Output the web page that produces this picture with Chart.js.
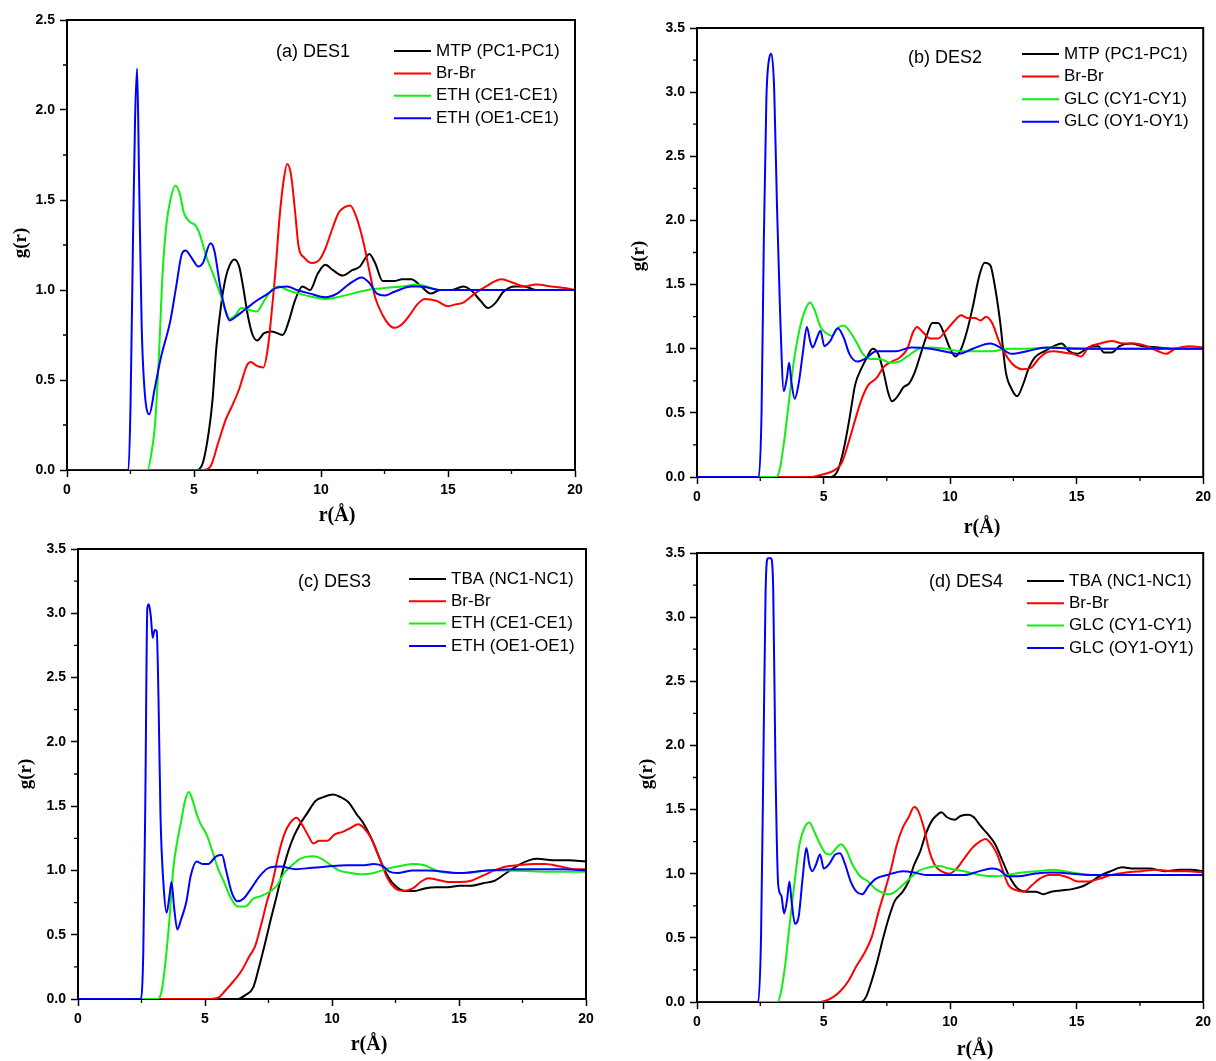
<!DOCTYPE html>
<html>
<head>
<meta charset="utf-8">
<script src="https://cdn.jsdelivr.net/npm/chart.js@4.4.0/dist/chart.umd.min.js"></script>
<style>
  body { margin: 0; background: #fff; width: 1216px; height: 1061px; position: relative; overflow: hidden; }
  canvas { position: absolute; }
</style>
</head>
<body>
<canvas id="panelA" width="608" height="545" style="left:0;top:0"></canvas>
<canvas id="panelB" width="608" height="545" style="left:608px;top:0"></canvas>
<canvas id="panelC" width="608" height="531" style="left:0;top:530px"></canvas>
<canvas id="panelD" width="608" height="531" style="left:608px;top:530px"></canvas>
<script>
// (a) DES1
const rA_MTP = [0, 5.12, 5.35, 5.58, 5.73, 5.88, 6.07, 6.25, 6.41, 6.59, 6.78, 6.93, 7.13, 7.31, 7.49, 7.76, 8.06, 8.49, 8.74, 8.97, 9.27, 9.57, 9.87, 10.17, 10.47, 10.85, 11.23, 11.53, 11.76, 11.9, 12.13, 12.43, 12.89, 13.19, 13.56, 13.94, 14.32, 14.69, 15.15, 15.6, 15.9, 16.28, 16.58, 16.88, 17.18, 17.63, 18.0, 18.46, 19.2, 20];
const gA_MTP = [0, 0, 0.04, 0.21, 0.39, 0.68, 0.92, 1.07, 1.14, 1.17, 1.13, 1.02, 0.85, 0.75, 0.72, 0.76, 0.77, 0.75, 0.83, 0.94, 1.02, 1.0, 1.09, 1.14, 1.11, 1.08, 1.11, 1.13, 1.18, 1.2, 1.15, 1.05, 1.05, 1.06, 1.06, 1.02, 0.98, 1.0, 1.0, 1.02, 1.0, 0.94, 0.9, 0.93, 0.99, 1.02, 1.02, 1.0, 1.0, 1.0];
const rA_Br = [0, 5.35, 5.65, 5.95, 6.25, 6.48, 6.78, 7.08, 7.24, 7.46, 7.73, 7.91, 8.06, 8.21, 8.36, 8.52, 8.67, 8.82, 8.97, 9.12, 9.34, 9.65, 9.95, 10.17, 10.47, 10.7, 10.93, 11.15, 11.38, 11.68, 11.9, 12.13, 12.43, 12.66, 12.89, 13.19, 13.49, 13.79, 14.09, 14.54, 15.0, 15.3, 15.6, 16.05, 16.5, 17.1, 17.56, 18.0, 18.46, 19.07, 19.67, 20];
const gA_Br = [0, 0, 0.02, 0.15, 0.28, 0.35, 0.45, 0.58, 0.6, 0.58, 0.57, 0.68, 0.88, 1.11, 1.39, 1.6, 1.7, 1.64, 1.45, 1.24, 1.18, 1.15, 1.17, 1.23, 1.35, 1.43, 1.46, 1.47, 1.41, 1.26, 1.11, 0.96, 0.86, 0.81, 0.79, 0.81, 0.86, 0.92, 0.95, 0.94, 0.91, 0.92, 0.93, 0.98, 1.02, 1.06, 1.04, 1.02, 1.03, 1.02, 1.01, 1.0];
const rA_CE = [0, 3.17, 3.32, 3.47, 3.62, 3.77, 3.92, 4.07, 4.27, 4.45, 4.6, 4.82, 5.05, 5.2, 5.5, 5.8, 6.03, 6.25, 6.41, 6.63, 6.86, 7.16, 7.46, 7.76, 8.06, 8.36, 8.67, 9.12, 9.72, 10.17, 10.63, 11.23, 11.83, 12.43, 13.19, 13.79, 14.69, 16.2, 17.7, 20];
const gA_CE = [0, 0, 0.09, 0.26, 0.64, 1.11, 1.37, 1.5, 1.58, 1.53, 1.43, 1.38, 1.36, 1.32, 1.18, 1.07, 0.98, 0.88, 0.84, 0.86, 0.9, 0.89, 0.88, 0.94, 1.0, 1.02, 1.0, 0.98, 0.96, 0.95, 0.96, 0.98, 1.0, 1.01, 1.02, 1.03, 1.0, 1.0, 1.0, 1.0];
const rA_OE = [0, 2.42, 2.5, 2.6, 2.68, 2.76, 2.84, 2.94, 3.05, 3.24, 3.45, 3.69, 4.07, 4.3, 4.52, 4.67, 4.9, 5.17, 5.35, 5.65, 5.8, 6.03, 6.25, 6.41, 6.63, 7.0, 7.46, 7.91, 8.21, 8.67, 9.04, 9.57, 10.17, 10.63, 11.08, 11.6, 11.9, 12.2, 12.51, 12.89, 13.56, 13.94, 14.69, 15.45, 16.96, 18.46, 20];
const gA_OE = [0, 0, 0.35, 1.3, 1.95, 2.23, 1.6, 0.8, 0.45, 0.31, 0.45, 0.62, 0.83, 1.02, 1.2, 1.22, 1.18, 1.13, 1.15, 1.26, 1.22, 1.02, 0.88, 0.83, 0.85, 0.89, 0.94, 0.98, 1.01, 1.02, 1.0, 0.98, 0.96, 0.98, 1.03, 1.07, 1.04, 0.98, 0.97, 0.99, 1.02, 1.02, 1.0, 1.0, 1.0, 1.0, 1.0];

// (b) DES2
const rB_MTP = [0, 5.26, 5.56, 5.79, 6.02, 6.25, 6.48, 6.71, 6.94, 7.16, 7.39, 7.55, 7.7, 7.93, 8.16, 8.38, 8.61, 8.84, 9.07, 9.3, 9.53, 9.76, 9.98, 10.21, 10.44, 10.67, 10.9, 11.13, 11.36, 11.59, 11.74, 11.97, 12.2, 12.42, 12.65, 12.88, 13.11, 13.34, 13.72, 14.1, 14.4, 14.71, 15.02, 15.47, 15.85, 16.08, 16.39, 16.69, 17.15, 17.61, 18.22, 18.83, 19.44, 20];
const gB_MTP = [0, 0, 0.05, 0.21, 0.45, 0.72, 0.84, 0.93, 1.0, 0.96, 0.8, 0.66, 0.59, 0.63, 0.7, 0.73, 0.82, 0.96, 1.1, 1.2, 1.2, 1.12, 1.01, 0.94, 1.0, 1.14, 1.33, 1.55, 1.67, 1.65, 1.52, 1.22, 0.82, 0.69, 0.63, 0.72, 0.85, 0.93, 0.98, 1.02, 1.04, 0.98, 0.96, 1.01, 1.02, 0.97, 0.97, 1.02, 1.04, 1.02, 1.01, 1.0, 1.0, 1.0];
const rB_Br = [0, 4.5, 4.95, 5.41, 5.72, 6.02, 6.33, 6.55, 6.78, 7.09, 7.39, 7.7, 8.0, 8.31, 8.54, 8.69, 8.92, 9.22, 9.53, 9.83, 10.14, 10.44, 10.67, 10.98, 11.2, 11.43, 11.66, 11.97, 12.27, 12.58, 12.88, 13.19, 13.49, 13.8, 14.1, 14.48, 14.86, 15.17, 15.47, 15.93, 16.39, 16.84, 17.3, 17.76, 18.22, 18.52, 18.9, 19.44, 20];
const gB_Br = [0, 0, 0.02, 0.05, 0.11, 0.29, 0.5, 0.63, 0.72, 0.77, 0.86, 0.9, 0.93, 1.0, 1.13, 1.17, 1.13, 1.08, 1.08, 1.14, 1.21, 1.26, 1.24, 1.24, 1.22, 1.25, 1.2, 1.04, 0.93, 0.86, 0.84, 0.85, 0.92, 0.97, 0.98, 0.97, 0.96, 0.94, 1.01, 1.04, 1.06, 1.04, 1.04, 1.02, 0.98, 0.96, 1.0, 1.02, 1.01];
const rB_CY = [0, 3.13, 3.28, 3.43, 3.61, 3.81, 4.04, 4.27, 4.47, 4.65, 4.88, 5.11, 5.34, 5.56, 5.79, 6.02, 6.33, 6.55, 6.86, 7.24, 7.62, 8.0, 8.31, 8.77, 9.22, 9.83, 10.44, 11.05, 11.66, 12.27, 13.03, 14.1, 15.63, 17.91, 20];
const gB_CY = [0, 0, 0.07, 0.26, 0.55, 0.88, 1.14, 1.3, 1.36, 1.3, 1.17, 1.12, 1.1, 1.16, 1.18, 1.14, 1.04, 0.96, 0.92, 0.92, 0.89, 0.9, 0.94, 1.0, 1.01, 1.0, 0.98, 0.98, 0.98, 1.0, 1.0, 1.01, 1.0, 1.0, 1.0];
const rB_OY = [0, 2.44, 2.55, 2.64, 2.74, 2.85, 2.94, 3.05, 3.16, 3.28, 3.43, 3.55, 3.64, 3.73, 3.86, 4.01, 4.19, 4.34, 4.47, 4.57, 4.73, 4.88, 5.03, 5.26, 5.56, 5.79, 6.02, 6.33, 6.63, 7.09, 7.85, 8.46, 9.22, 9.98, 10.37, 10.9, 11.59, 11.97, 12.42, 13.03, 13.8, 14.86, 16.39, 17.91, 20];
const gB_OY = [0, 0, 0.5, 1.84, 2.94, 3.26, 3.3, 3.02, 2.11, 1.3, 0.67, 0.77, 0.89, 0.74, 0.61, 0.72, 0.98, 1.17, 1.06, 1.01, 1.08, 1.14, 1.02, 1.06, 1.16, 1.09, 0.96, 0.9, 0.92, 0.98, 0.98, 1.01, 1.0, 0.97, 0.96, 1.0, 1.04, 1.01, 0.96, 0.98, 1.01, 1.0, 1.0, 1.0, 1.0];

// (c) DES3
const rC_TBA = [0, 6.28, 6.59, 6.9, 7.13, 7.36, 7.59, 7.82, 8.05, 8.28, 8.51, 8.74, 9.04, 9.35, 9.66, 10.04, 10.34, 10.65, 10.96, 11.26, 11.57, 11.88, 12.18, 12.49, 12.87, 13.26, 13.64, 14.1, 14.56, 15.02, 15.48, 15.94, 16.4, 16.86, 17.32, 17.78, 18.08, 18.7, 19.31, 20];
const gC_TBA = [0, 0, 0.03, 0.09, 0.25, 0.43, 0.62, 0.8, 0.99, 1.15, 1.27, 1.36, 1.45, 1.54, 1.57, 1.59, 1.57, 1.53, 1.44, 1.36, 1.24, 1.09, 0.96, 0.88, 0.84, 0.84, 0.86, 0.87, 0.87, 0.88, 0.88, 0.9, 0.92, 0.98, 1.04, 1.08, 1.09, 1.08, 1.08, 1.07];
const rC_Br = [0, 5.06, 5.52, 5.82, 6.13, 6.44, 6.74, 6.97, 7.2, 7.43, 7.66, 7.89, 8.12, 8.35, 8.61, 8.81, 9.04, 9.27, 9.5, 9.81, 10.11, 10.42, 10.73, 11.03, 11.26, 11.57, 11.88, 12.18, 12.49, 12.8, 13.18, 13.49, 13.79, 14.1, 14.56, 15.02, 15.48, 15.94, 16.4, 16.86, 17.32, 17.93, 18.39, 19.0, 19.62, 20];
const gC_Br = [0, 0, 0.01, 0.07, 0.14, 0.22, 0.33, 0.41, 0.57, 0.75, 0.91, 1.12, 1.28, 1.37, 1.41, 1.36, 1.28, 1.21, 1.23, 1.23, 1.28, 1.3, 1.33, 1.36, 1.33, 1.24, 1.09, 0.94, 0.86, 0.84, 0.86, 0.91, 0.94, 0.93, 0.91, 0.91, 0.92, 0.96, 1.0, 1.03, 1.04, 1.05, 1.05, 1.03, 1.01, 1.01];
const rC_CE = [0, 3.14, 3.3, 3.45, 3.6, 3.75, 3.91, 4.06, 4.21, 4.37, 4.52, 4.67, 4.83, 5.06, 5.29, 5.52, 5.75, 5.98, 6.28, 6.59, 6.9, 7.2, 7.51, 7.82, 8.12, 8.43, 8.74, 9.2, 9.5, 9.89, 10.27, 10.73, 11.19, 11.65, 12.11, 12.57, 13.18, 13.64, 14.1, 14.71, 15.33, 16.09, 16.86, 18.39, 20];
const gC_CE = [0, 0, 0.07, 0.3, 0.62, 1.01, 1.23, 1.38, 1.54, 1.61, 1.54, 1.44, 1.36, 1.28, 1.15, 1.01, 0.91, 0.8, 0.72, 0.72, 0.78, 0.8, 0.83, 0.88, 0.98, 1.04, 1.09, 1.11, 1.1, 1.05, 1.0, 0.98, 0.97, 0.98, 1.01, 1.03, 1.05, 1.04, 1.0, 0.98, 0.98, 1.0, 1.0, 0.99, 0.99];
const rC_OE = [0, 2.45, 2.57, 2.65, 2.73, 2.79, 2.87, 2.94, 3.02, 3.1, 3.17, 3.25, 3.37, 3.49, 3.6, 3.68, 3.79, 3.91, 4.06, 4.26, 4.44, 4.67, 4.9, 5.13, 5.44, 5.67, 5.82, 6.05, 6.28, 6.51, 6.82, 7.13, 7.51, 7.97, 8.58, 9.2, 9.81, 10.57, 11.19, 11.65, 12.03, 12.26, 12.57, 13.18, 13.79, 15.02, 16.09, 17.62, 19.16, 20];
const gC_OE = [0, 0, 0.36, 1.54, 3.04, 3.07, 2.97, 2.81, 2.87, 2.86, 2.33, 1.41, 0.88, 0.67, 0.8, 0.91, 0.7, 0.54, 0.62, 0.75, 0.96, 1.07, 1.05, 1.05, 1.11, 1.12, 1.01, 0.83, 0.76, 0.78, 0.86, 0.95, 1.02, 1.03, 1.01, 1.02, 1.03, 1.04, 1.04, 1.05, 1.03, 0.99, 0.98, 1.0, 1.0, 0.98, 1.0, 1.01, 1.01, 1.0];

// (d) DES4
const rD_TBA = [0, 6.45, 6.68, 6.91, 7.14, 7.37, 7.6, 7.82, 8.13, 8.36, 8.58, 8.81, 9.04, 9.27, 9.5, 9.65, 9.88, 10.18, 10.41, 10.72, 10.94, 11.17, 11.48, 11.78, 12.09, 12.39, 12.69, 13.0, 13.38, 13.68, 13.99, 14.37, 14.82, 15.21, 15.59, 15.89, 16.35, 16.8, 17.26, 17.87, 18.48, 19.09, 19.54, 20];
const gD_TBA = [0, 0, 0.04, 0.17, 0.33, 0.51, 0.67, 0.79, 0.86, 0.94, 1.07, 1.17, 1.31, 1.41, 1.46, 1.48, 1.44, 1.42, 1.45, 1.46, 1.44, 1.38, 1.31, 1.23, 1.09, 0.96, 0.88, 0.86, 0.86, 0.84, 0.86, 0.87, 0.88, 0.9, 0.94, 0.98, 1.02, 1.05, 1.04, 1.04, 1.02, 1.03, 1.03, 1.02];
const rD_Br = [0, 4.78, 5.08, 5.39, 5.69, 6.0, 6.3, 6.61, 6.91, 7.21, 7.44, 7.67, 7.9, 8.13, 8.36, 8.58, 8.74, 8.96, 9.19, 9.42, 9.65, 9.95, 10.26, 10.56, 10.87, 11.17, 11.4, 11.63, 11.86, 12.09, 12.31, 12.62, 12.92, 13.23, 13.53, 13.91, 14.29, 14.67, 15.05, 15.43, 15.89, 16.35, 16.96, 17.56, 18.17, 18.78, 19.39, 20];
const gD_Br = [0, 0, 0.01, 0.04, 0.09, 0.17, 0.28, 0.38, 0.51, 0.73, 0.88, 1.04, 1.23, 1.36, 1.44, 1.52, 1.49, 1.36, 1.17, 1.06, 1.02, 1.0, 1.04, 1.12, 1.2, 1.25, 1.27, 1.23, 1.15, 1.02, 0.91, 0.87, 0.86, 0.91, 0.96, 0.99, 0.99, 0.97, 0.94, 0.94, 0.96, 0.99, 1.01, 1.02, 1.03, 1.02, 1.02, 1.01];
const rD_CY = [0, 3.18, 3.33, 3.49, 3.64, 3.84, 4.05, 4.25, 4.44, 4.63, 4.86, 5.08, 5.27, 5.46, 5.69, 5.88, 6.15, 6.45, 6.76, 7.06, 7.37, 7.6, 7.9, 8.28, 8.74, 9.19, 9.57, 9.95, 10.56, 11.17, 11.78, 12.24, 12.85, 13.46, 14.06, 14.52, 15.13, 15.74, 16.35, 17.87, 20];
const gD_CY = [0, 0, 0.09, 0.3, 0.57, 0.91, 1.23, 1.36, 1.4, 1.33, 1.23, 1.16, 1.15, 1.19, 1.23, 1.19, 1.07, 0.98, 0.94, 0.88, 0.85, 0.84, 0.87, 0.94, 1.02, 1.05, 1.06, 1.04, 1.02, 0.99, 0.98, 0.99, 1.01, 1.02, 1.03, 1.02, 1.0, 0.99, 0.99, 0.99, 0.99];
const rD_OY = [0, 2.42, 2.53, 2.62, 2.71, 2.8, 2.92, 3.01, 3.1, 3.21, 3.33, 3.44, 3.56, 3.65, 3.74, 3.87, 4.02, 4.17, 4.32, 4.44, 4.55, 4.7, 4.86, 5.01, 5.24, 5.46, 5.65, 5.84, 6.07, 6.3, 6.53, 6.76, 7.06, 7.52, 8.13, 8.58, 9.04, 9.8, 10.56, 11.17, 11.63, 11.93, 12.31, 12.69, 13.3, 14.06, 15.59, 17.11, 18.63, 20];
const gD_OY = [0, 0, 0.51, 1.83, 3.2, 3.46, 3.46, 3.23, 1.83, 0.91, 0.83, 0.69, 0.8, 0.94, 0.78, 0.61, 0.67, 0.96, 1.2, 1.07, 1.02, 1.07, 1.15, 1.04, 1.08, 1.15, 1.16, 1.08, 0.94, 0.86, 0.84, 0.9, 0.96, 0.99, 1.02, 1.01, 0.99, 0.99, 0.99, 1.02, 1.04, 1.03, 0.98, 0.98, 1.0, 1.01, 0.99, 0.99, 0.99, 0.99];

const seriesColors = ["#000000", "#ff0000", "#11ee11", "#0000ff"];

const points = (r, g) => r.map((x, i) => ({ x: x, y: g[i] }));

// Frame, minor ticks, in-plot title, legend and axis titles
const decorPlugin = {
  id: "decor",
  afterDraw(chart, args, opts) {
    const ctx = chart.ctx;
    const a = chart.chartArea;
    const xs = chart.scales.x;
    const ys = chart.scales.y;
    ctx.save();
    ctx.strokeStyle = "#000";
    ctx.lineWidth = 2;
    ctx.beginPath();
    ctx.moveTo(a.left, a.top);
    ctx.lineTo(a.right, a.top);
    ctx.lineTo(a.right, a.bottom);
    ctx.stroke();

    ctx.lineWidth = 1.3;
    ctx.beginPath();
    for (let v = 0.25; v < ys.max; v += 0.5) {
      const y = ys.getPixelForValue(v);
      ctx.moveTo(a.left - 4, y);
      ctx.lineTo(a.left, y);
    }
    for (let v = 2.5; v < xs.max; v += 5) {
      const x = xs.getPixelForValue(v);
      ctx.moveTo(x, a.bottom);
      ctx.lineTo(x, a.bottom + 4);
    }
    ctx.stroke();

    ctx.fillStyle = "#000";
    ctx.textAlign = "left";
    ctx.textBaseline = "middle";
    ctx.font = '18px "Liberation Sans", Arial, sans-serif';
    ctx.fillText(opts.title, opts.titleX, opts.titleY);

    ctx.font = '17px "Liberation Sans", Arial, sans-serif';
    chart.data.datasets.forEach((ds, i) => {
      const y = opts.legY + i * opts.legStep;
      ctx.strokeStyle = ds.borderColor;
      ctx.lineWidth = 2;
      ctx.beginPath();
      ctx.moveTo(opts.legX, y);
      ctx.lineTo(opts.legX + 37, y);
      ctx.stroke();
      ctx.fillText(ds.label, opts.legX + 42, y);
    });

    ctx.textAlign = "center";
    ctx.font = 'bold 20px "Liberation Serif", "Times New Roman", serif';
    ctx.fillText("r(Å)", opts.xTitle[0], opts.xTitle[1]);
    ctx.translate(opts.yTitle[0], opts.yTitle[1]);
    ctx.rotate(-Math.PI / 2);
    ctx.font = 'bold 19px "Liberation Serif", "Times New Roman", serif';
    ctx.fillText("g(r)", 0, 0);
    ctx.restore();
  }
};

const tickFont = { family: '"Liberation Sans", Arial, sans-serif', size: 14, weight: "bold" };

function makePanel(p) {
  const datasets = p.series.map((s, i) => ({
    label: p.labels[i],
    data: points(s[0], s[1]),
    borderColor: seriesColors[i],
    borderWidth: 2,
    pointRadius: 0,
    fill: false,
    cubicInterpolationMode: "monotone",
    order: 3 - i
  }));
  new Chart(document.getElementById(p.id), {
    type: "line",
    data: { datasets: datasets },
    plugins: [decorPlugin],
    options: {
      responsive: false,
      animation: false,
      events: [],
      layout: { padding: { top: p.padTop, right: p.padRight, left: 0, bottom: 0 } },
      plugins: {
        legend: { display: false },
        tooltip: { enabled: false },
        decor: p.decor
      },
      scales: {
        x: {
          type: "linear",
          min: 0,
          max: 20,
          ticks: { stepSize: 5, color: "#000", font: tickFont, padding: 5, maxRotation: 0 },
          grid: { drawOnChartArea: false, color: "#000", tickLength: 7, tickWidth: 1.5, z: -1 },
          border: { color: "#000", width: 2, z: -1 },
          afterFit(s) { s.height = p.xHeight; }
        },
        y: {
          type: "linear",
          min: 0,
          max: p.yMax,
          ticks: { stepSize: 0.5, color: "#000", font: tickFont, padding: 5, callback: (v) => v.toFixed(1) },
          grid: { drawOnChartArea: false, color: "#000", tickLength: 7, tickWidth: 1.5, z: -1 },
          border: { color: "#000", width: 2, z: -1 },
          afterFit(s) { s.width = p.yWidth; }
        }
      }
    }
  });
}

makePanel({
  id: "panelA", yMax: 2.5, padTop: 20, padRight: 33, yWidth: 67, xHeight: 75,
  labels: ["MTP (PC1-PC1)", "Br-Br", "ETH (CE1-CE1)", "ETH (OE1-CE1)"],
  series: [[rA_MTP, gA_MTP], [rA_Br, gA_Br], [rA_CE, gA_CE], [rA_OE, gA_OE]],
  decor: { title: "(a) DES1", titleX: 276, titleY: 52, legX: 394, legY: 51, legStep: 22.4, xTitle: [337, 516], yTitle: [21, 243] }
});
makePanel({
  id: "panelB", yMax: 3.5, padTop: 28, padRight: 12, yWidth: 89, xHeight: 68,
  labels: ["MTP (PC1-PC1)", "Br-Br", "GLC (CY1-CY1)", "GLC (OY1-OY1)"],
  series: [[rB_MTP, gB_MTP], [rB_Br, gB_Br], [rB_CY, gB_CY], [rB_OY, gB_OY]],
  decor: { title: "(b) DES2", titleX: 300, titleY: 58, legX: 414, legY: 54, legStep: 22.6, xTitle: [374, 528], yTitle: [31, 256] }
});
makePanel({
  id: "panelC", yMax: 3.5, padTop: 19, padRight: 22, yWidth: 78, xHeight: 62,
  labels: ["TBA (NC1-NC1)", "Br-Br", "ETH (CE1-CE1)", "ETH (OE1-OE1)"],
  series: [[rC_TBA, gC_TBA], [rC_Br, gC_Br], [rC_CE, gC_CE], [rC_OE, gC_OE]],
  decor: { title: "(c) DES3", titleX: 298, titleY: 52, legX: 409, legY: 49, legStep: 22.3, xTitle: [369, 515], yTitle: [26, 244] }
});
makePanel({
  id: "panelD", yMax: 3.5, padTop: 23, padRight: 11, yWidth: 89, xHeight: 59,
  labels: ["TBA (NC1-NC1)", "Br-Br", "GLC (CY1-CY1)", "GLC (OY1-OY1)"],
  series: [[rD_TBA, gD_TBA], [rD_Br, gD_Br], [rD_CY, gD_CY], [rD_OY, gD_OY]],
  decor: { title: "(d) DES4", titleX: 321, titleY: 52, legX: 419, legY: 51, legStep: 22.3, xTitle: [367, 520], yTitle: [39, 244] }
});
</script>
</body>
</html>
